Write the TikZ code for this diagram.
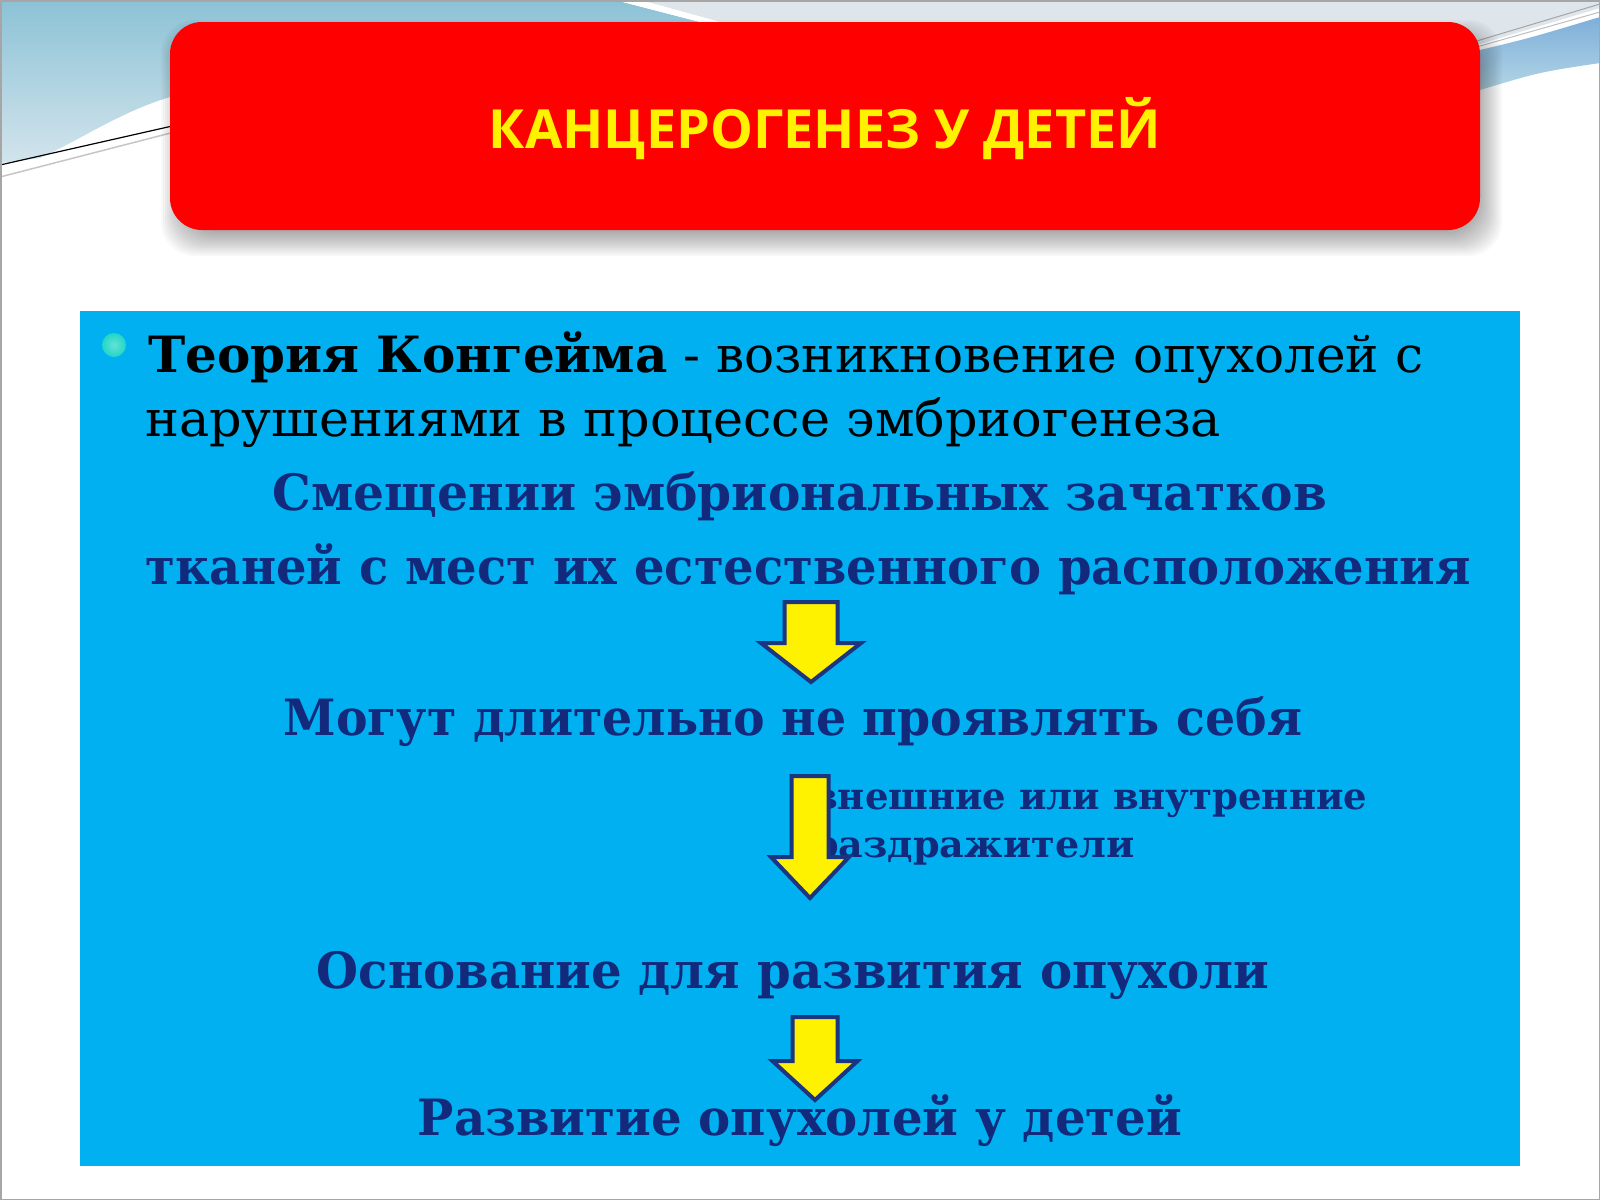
\documentclass[tikz,border=0pt]{standalone}
\usepackage{fontspec}
\setmainfont{DejaVu Serif}
\newfontfamily\titlefont{Open Sans}
\definecolor{panelblue}{HTML}{00B0F0}
\definecolor{navytext}{HTML}{132A7C}
\definecolor{arrowedge}{HTML}{1B3580}
\definecolor{skyblue}{HTML}{8CC2D6}
\definecolor{palesky}{HTML}{D2E4EC}
\definecolor{topgray}{HTML}{DEE5EB}
\definecolor{bulletcol}{HTML}{22D6C6}
\tikzset{
  maintext/.style={anchor=base west, inner sep=0pt, font=\fontsize{50}{60}\selectfont, text=black},
  navyline/.style={anchor=base, inner sep=0pt, font=\fontsize{50}{60}\selectfont\bfseries, text=navytext},
  smallnavy/.style={anchor=base west, inner sep=0pt, font=\fontsize{37}{44}\selectfont\bfseries, text=navytext},
  blockarrow/.style={fill=yellow, draw=arrowedge, line width=4pt, line join=miter},
}
\newcommand{\hs}[2]{\scalebox{#1}[1]{#2}}
\begin{document}
\begin{tikzpicture}[x=1pt,y=-1pt]
\useasboundingbox (0,0) rectangle (1600,1200);
\fill[white] (0,0) rectangle (1600,1200);
% top-left sky
\shade[top color=skyblue, bottom color=palesky] (0,0) -- (615,0) -- (700,22) -- (700,70) -- (240,70) -- (240,85) -- (170,97)
  .. controls (120,112) and (80,140) .. (40,158) -- (0,163) -- cycle;
% top-right gray
\fill[topgray] (640,0) -- (1600,0) -- (1600,8) -- (1480,44) -- (1440,56) -- (1440,70) -- (720,70) -- (720,22) -- cycle;
\fill[white] (615,0) -- (640,0) -- (720,22) -- (720,40) -- (700,40) -- (700,22) -- cycle;
% top-right blue band
\shade[top color=skyblue!90!blue, bottom color=skyblue!60] (1480,50) .. controls (1530,38) .. (1600,17) -- (1600,63) .. controls (1540,72) .. (1480,90) -- (1440,100) -- (1440,60) -- cycle;
\draw[gray!70, line width=1pt] (1440,52) -- (1480,40) -- (1600,4);
\draw[gray!50, line width=1pt] (1440,58) -- (1480,46) -- (1600,12);
% top-left lines
\draw[gray!45, line width=1.5pt] (0,177) -- (190,128);
\draw[black, line width=1.2pt] (0,165) -- (190,122);
% title shadow
\foreach \i in {-10,-8,...,14} {
  \fill[black, opacity=0.028, rounded corners=34pt] (175-\i,34-\i) rectangle (1488+\i,242+\i);
}
% title box
\node[draw=none, fill=red, rounded corners=32pt, minimum width=1310pt, minimum height=208pt]
  (titlebox) at (825,126) {};
\node[anchor=base, inner sep=0pt, text=yellow, font=\titlefont\bfseries\fontsize{54}{64}\selectfont] (title) at (825,148) {КАНЦЕРОГЕНЕЗ У ДЕТЕЙ};
% panel
\fill[panelblue] (80,311) rectangle (1520,1166);
% bullet
\shade[inner color=bulletcol!70!white, outer color=bulletcol] (114,345) circle (12);
\node[maintext] (l1) at (148,372) {\textbf{Теория Конгейма} - возникновение опухолей с};
\node[maintext] (l2) at (145,436) {\hs{1.017}{нарушениями в процессе эмбриогенеза}};
\node[navyline] (l3) at (800,510) {\hs{0.974}{Смещении эмбриональных зачатков}};
\node[navyline] (l4) at (808,584) {\hs{0.961}{тканей с мест их естественного расположения}};
\node[navyline] (l5) at (793,735) {\hs{0.948}{Могут длительно не проявлять себя}};
\node[smallnavy] (s1) at (812,809) {внешние или внутренние};
\node[smallnavy] (s2) at (812,857) {\hs{1.03}{раздражители}};
\node[navyline] (l6) at (793,988) {\hs{0.964}{Основание для развития опухоли}};
\node[navyline] (l7) at (800,1135) {\hs{0.965}{Развитие опухолей у детей}};
% arrows
\draw[blockarrow] (784.5,602) -- (837.5,602) -- (837.5,643) -- (861,643) -- (811,682) -- (761,643) -- (784.5,643) -- cycle;
\draw[blockarrow] (791.5,776) -- (828.5,776) -- (828.5,857) -- (849,857) -- (810,898) -- (771,857) -- (791.5,857) -- cycle;
\draw[blockarrow] (792.5,1017) -- (837.5,1017) -- (837.5,1061) -- (857.5,1061) -- (815,1100) -- (772.5,1061) -- (792.5,1061) -- cycle;
% frame
\draw[gray!70, line width=1.5pt] (0.75,0.75) rectangle (1599.25,1199.25);
\end{tikzpicture}
\end{document}
